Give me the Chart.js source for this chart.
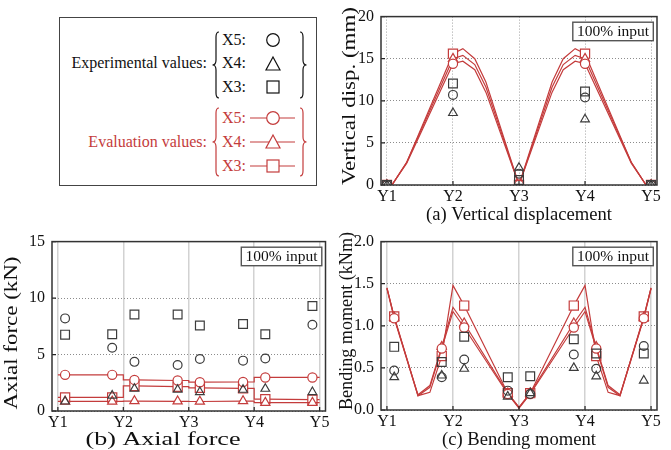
<!DOCTYPE html>
<html>
<head>
<meta charset="utf-8">
<script src="https://cdn.jsdelivr.net/npm/chart.js@4.4.0/dist/chart.umd.min.js"></script>
<style>
    body { margin: 0; width: 671px; height: 450px; background: #fff; position: relative; overflow: hidden; font-family: "Liberation Serif", serif; }
    .pane { position: absolute; }
    #legend-box { position: absolute; left: 59px; top: 17px; width: 256px; height: 167px; border: 1.5px solid #444; }
    .txt { position: absolute; height: 20px; line-height: 20px; font-size: 16px; white-space: nowrap; }
    .black { color: #111; }
    .red { color: #c43c3c; }
</style>
</head>
<body>

<div id="legend-box"></div>
<div class="txt black" style="left:40px;width:167px;top:53px;text-align:right">Experimental values:</div>
<div class="txt red" style="left:40px;width:167px;top:132px;text-align:right">Evaluation values:</div>
<div class="txt black" style="left:222px;top:30px">X5:</div>
<div class="txt black" style="left:222px;top:53px">X4:</div>
<div class="txt black" style="left:222px;top:77px">X3:</div>
<div class="txt red" style="left:222px;top:108px">X5:</div>
<div class="txt red" style="left:222px;top:132px">X4:</div>
<div class="txt red" style="left:222px;top:156px">X3:</div>
<svg style="position:absolute;left:0;top:0" width="340" height="200">
    <g fill="none" stroke="#111" stroke-width="1.2">
        <path d="M219 32 Q216 32 216 37 L216 60 Q216 65 212.5 65 Q216 65 216 70 L216 93 Q216 98 219 98"/>
        <path d="M300 32 Q303 32 303 37 L303 60 Q303 65 306.5 65 Q303 65 303 70 L303 93 Q303 98 300 98"/>
        <circle cx="273" cy="40" r="6.3"/>
        <path d="M273 57 L280 70 L266 70 Z"/>
        <rect x="267" y="81" width="12" height="12"/>
    </g>
    <g fill="none" stroke="#c43c3c" stroke-width="1.2">
        <path d="M219 108 Q216 108 216 113 L216 137 Q216 142 212.5 142 Q216 142 216 147 L216 171 Q216 176 219 176"/>
        <path d="M300 108 Q303 108 303 113 L303 137 Q303 142 306.5 142 Q303 142 303 147 L303 171 Q303 176 300 176"/>
        <path d="M250 118 H295 M250 142 H295 M250 166 H295"/>
        <circle cx="273" cy="118" r="6.3" fill="#fff"/>
        <path d="M273 135 L280 148 L266 148 Z" fill="#fff"/>
        <rect x="267" y="160" width="12" height="12" fill="#fff"/>
    </g>
</svg>

<div class="pane" style="left:335px;top:0;width:336px;height:225px"><canvas id="chart-a"></canvas></div>
<div class="pane" style="left:0;top:225px;width:335px;height:225px"><canvas id="chart-b"></canvas></div>
<div class="pane" style="left:335px;top:225px;width:336px;height:225px"><canvas id="chart-c"></canvas></div>

<script>
// --- member positions (Y1..Y5) ---
const memberTicks = [0, 1, 2, 3, 4];
const memberLabels = ['Y1', 'Y2', 'Y3', 'Y4', 'Y5'];

// gauge positions for axial force / bending moment
const gaugeX = [0.11, 0.83, 1.17, 1.83, 2.17, 2.83, 3.17, 3.89];

// (a) vertical displacement, mm
const dispTicks = [0, 5, 10, 15, 20];
const dispTickLabels = ['0', '5', '10', '15', '20'];
const dispX = [0, 0.08, 0.3, 1, 1.15, 1.33, 1.5, 2, 2.5, 2.67, 2.85, 3, 3.7, 3.92, 4];
const dispEvalX5 = [0, 0.05, 2.6, 14.4, 14.7, 13.7, 11.0, 0, 11.0, 13.7, 14.7, 14.4, 2.6, 0.05, 0];
const dispEvalX4 = [0, 0.05, 2.7, 15.0, 15.4, 14.3, 11.6, 0, 11.6, 14.3, 15.4, 15.0, 2.7, 0.05, 0];
const dispEvalX3 = [0, 0.05, 2.7, 15.6, 16.2, 15.0, 12.2, 0, 12.2, 15.0, 16.2, 15.6, 2.7, 0.05, 0];
const dispExpX5 = [0, 10.7, 1.35, 10.4, 0];
const dispExpX4 = [0, 8.55, 2.05, 7.8, 0];
const dispExpX3 = [0, 12.05, 0.6, 11.1, 0];

// (b) axial force, kN (values at gaugeX)
const axialTicks = [0, 5, 10, 15];
const axialTickLabels = ['0', '5', '10', '15'];
const axialEvalX5 = [3.2, 3.2, 2.75, 2.7, 2.55, 2.57, 2.97, 2.97];
const axialEvalX4 = [0.85, 0.85, 0.88, 0.86, 0.84, 0.88, 0.74, 0.74];
const axialEvalX3 = [1.2, 1.2, 2.22, 2.15, 2.05, 2.0, 1.05, 1.0];
const axialExpX5 = [8.2, 5.6, 4.35, 4.07, 4.6, 4.46, 4.65, 7.63];
const axialExpX4 = [0.84, 1.37, 1.97, 1.88, 1.68, 1.88, 1.97, 1.68];
const axialExpX3 = [6.76, 6.8, 8.55, 8.55, 7.57, 7.7, 6.8, 9.3];

// (c) bending moment, kNm
const momentTicks = [0, 0.5, 1, 1.5, 2];
const momentTickLabels = ['0.0', '0.5', '1.0', '1.5', '2.0'];
const momentX = [0, 0.11, 0.47, 0.65, 0.83, 1, 1.17, 1.83, 2, 2.17, 2.83, 3, 3.17, 3.35, 3.53, 3.89, 4];
const momentEvalX5 = [1.44, 1.09, 0.17, 0.27, 0.73, 1.17, 0.98, 0.19, 0.02, 0.19, 0.98, 1.17, 0.73, 0.27, 0.17, 1.09, 1.44];
const momentEvalX4 = [1.45, 1.10, 0.18, 0.29, 0.75, 1.22, 1.03, 0.20, 0.03, 0.20, 1.03, 1.22, 0.75, 0.29, 0.18, 1.10, 1.45];
const momentEvalX3 = [1.45, 1.11, 0.17, 0.21, 0.64, 1.48, 1.24, 0.20, 0.03, 0.20, 1.24, 1.48, 0.64, 0.21, 0.17, 1.11, 1.45];
const momentExpX5 = [0.47, 0.39, 0.60, 0.23, 0.19, 0.66, 0.49, 0.76];
const momentExpX4 = [0.39, 0.41, 0.49, 0.16, 0.20, 0.50, 0.40, 0.35];
const momentExpX3 = [0.75, 0.57, 0.87, 0.39, 0.40, 0.84, 0.67, 0.67];

const RED = '#c43c3c';
const GREY = '#3c3c3c';
const FONT = 'Liberation Serif';
const sizes = { circle: [4.4, 4.6], triangle: [5, 5.3], rect: [6.2, 6.5] };

function toPoints(xs, ys) {
    return xs.map((x, i) => ({ x: x, y: ys[i] }));
}

// step line over each member using the two gauge readings of that member
function stepPoints(vals) {
    const pts = [];
    for (let k = 0; k < 4; k++) {
        pts.push({ x: k, y: vals[2 * k] });
        pts.push({ x: gaugeX[2 * k], y: vals[2 * k] });
        pts.push({ x: gaugeX[2 * k + 1], y: vals[2 * k + 1] });
        pts.push({ x: k + 1, y: vals[2 * k + 1] });
    }
    return pts;
}

function expSet(points, style) {
    return {
        data: points,
        showLine: false,
        pointStyle: style,
        pointRadius: sizes[style][0],
        borderColor: GREY,
        backgroundColor: 'rgba(0,0,0,0)',
        borderWidth: 1.2
    };
}

function evalSet(points, style, markAt) {
    return {
        data: points,
        showLine: true,
        tension: 0,
        borderColor: RED,
        borderWidth: 1.2,
        pointStyle: style,
        pointRadius: ctx => (ctx.raw && markAt.includes(ctx.raw.x)) ? sizes[style][1] : 0,
        pointBorderColor: RED,
        pointBackgroundColor: '#fff',
        pointBorderWidth: 1.2
    };
}

function stretchText(ctx, t, vertical) {
    ctx.save();
    ctx.font = t.size + 'px "' + FONT + '"';
    ctx.translate(t.cx, t.cy);
    if (vertical) ctx.rotate(-Math.PI / 2);
    const m = ctx.measureText(t.text).width;
    ctx.scale(t.w / m, 1);
    ctx.textAlign = 'center';
    ctx.textBaseline = 'middle';
    ctx.fillText(t.text, 0, 0);
    ctx.restore();
}

const decor = {
    id: 'decor',
    afterDatasetsDraw(chart, args, opts) {
        const { ctx, chartArea: a, scales: { x, y } } = chart;
        ctx.save();
        // inward tick marks
        ctx.strokeStyle = '#222';
        ctx.lineWidth = 1.2;
        ctx.beginPath();
        x.ticks.forEach(t => {
            const px = x.getPixelForValue(t.value);
            ctx.moveTo(px, a.bottom);
            ctx.lineTo(px, a.bottom - 4);
        });
        y.ticks.forEach(t => {
            const py = y.getPixelForValue(t.value);
            ctx.moveTo(a.left, py);
            ctx.lineTo(a.left + 4, py);
        });
        ctx.stroke();
        // frame
        ctx.lineWidth = 1.5;
        ctx.strokeStyle = '#333';
        ctx.strokeRect(a.left, a.top, a.right - a.left, a.bottom - a.top);
        // "100% input" badge
        const bw = 80.5, bh = 18.5;
        const bx = a.right - 3.7 - bw, by = a.top + 5.6;
        ctx.fillStyle = '#fff';
        ctx.fillRect(bx, by, bw, bh);
        ctx.strokeStyle = '#555';
        ctx.lineWidth = 1.4;
        ctx.strokeRect(bx, by, bw, bh);
        ctx.fillStyle = '#111';
        ctx.font = '15.5px "' + FONT + '"';
        ctx.textAlign = 'center';
        ctx.textBaseline = 'middle';
        ctx.fillText(opts.badge, bx + bw / 2, by + bh / 2 + 0.5);
        ctx.restore();
    },
    afterDraw(chart, args, opts) {
        const ctx = chart.ctx;
        ctx.save();
        ctx.fillStyle = '#111';
        stretchText(ctx, opts.xTitle, false);
        stretchText(ctx, opts.yTitle, true);
        ctx.restore();
    }
};

function makeOptions(cfg) {
    const tickFont = { family: FONT, size: 16 };
    return {
        animation: false,
        responsive: true,
        maintainAspectRatio: false,
        layout: { padding: cfg.pad },
        plugins: {
            legend: { display: false },
            tooltip: { enabled: false },
            decor: { badge: '100% input', xTitle: cfg.xTitle, yTitle: cfg.yTitle }
        },
        scales: {
            x: {
                type: 'linear',
                min: -0.09,
                max: 4.09,
                afterBuildTicks: s => { s.ticks = memberTicks.map(v => ({ value: v })); },
                afterFit: s => { s.height = cfg.xHeight; },
                ticks: {
                    callback: v => memberLabels[memberTicks.indexOf(v)],
                    padding: 2,
                    autoSkip: false,
                    maxRotation: 0,
                    color: '#111',
                    font: tickFont
                },
                grid: { color: cfg.vGridColor, lineWidth: cfg.vGridWidth, drawTicks: false },
                border: { display: false, dash: cfg.vDash }
            },
            y: {
                min: 0,
                max: cfg.yTicks[cfg.yTicks.length - 1],
                afterBuildTicks: s => { s.ticks = cfg.yTicks.map(v => ({ value: v })); },
                afterFit: s => { s.width = cfg.yWidth; },
                ticks: {
                    callback: v => cfg.yLabels[cfg.yTicks.indexOf(v)],
                    padding: 7,
                    color: '#111',
                    font: tickFont
                },
                grid: { color: '#8c8c8c', lineWidth: 1, drawTicks: false },
                border: { display: false, dash: [1, 2] }
            }
        }
    };
}

new Chart(document.getElementById('chart-a'), {
    type: 'scatter',
    data: {
        datasets: [
            expSet(toPoints(memberTicks, dispExpX5), 'circle'),
            expSet(toPoints(memberTicks, dispExpX4), 'triangle'),
            expSet(toPoints(memberTicks, dispExpX3), 'rect'),
            evalSet(toPoints(dispX, dispEvalX5), 'circle', memberTicks),
            evalSet(toPoints(dispX, dispEvalX4), 'triangle', memberTicks),
            evalSet(toPoints(dispX, dispEvalX3), 'rect', memberTicks)
        ]
    },
    options: makeOptions({
        pad: { left: 0, right: 14, top: 8, bottom: 0 },
        xHeight: 40, yWidth: 46,
        yTicks: dispTicks, yLabels: dispTickLabels,
        vGridColor: '#a0a0a0', vGridWidth: 1, vDash: [1, 2],
        xTitle: { text: '(a) Vertical displacement', cx: 184, cy: 215, w: 186, size: 18 },
        yTitle: { text: 'Vertical disp. (mm)', cx: 15, cy: 96, w: 178, size: 19.5 }
    }),
    plugins: [decor]
});

new Chart(document.getElementById('chart-b'), {
    type: 'scatter',
    data: {
        datasets: [
            expSet(toPoints(gaugeX, axialExpX5), 'circle'),
            expSet(toPoints(gaugeX, axialExpX4), 'triangle'),
            expSet(toPoints(gaugeX, axialExpX3), 'rect'),
            evalSet(stepPoints(axialEvalX5), 'circle', gaugeX),
            evalSet(stepPoints(axialEvalX4), 'triangle', gaugeX),
            evalSet(stepPoints(axialEvalX3), 'rect', gaugeX)
        ]
    },
    options: makeOptions({
        pad: { left: 0, right: 9.5, top: 7, bottom: 0 },
        xHeight: 39, yWidth: 52,
        yTicks: axialTicks, yLabels: axialTickLabels,
        vGridColor: '#d2d2d2', vGridWidth: 1.5, vDash: [],
        xTitle: { text: '(b) Axial force', cx: 163, cy: 215, w: 155, size: 19.5 },
        yTitle: { text: 'Axial force (kN)', cx: 12, cy: 108, w: 153, size: 19.5 }
    }),
    plugins: [decor]
});

new Chart(document.getElementById('chart-c'), {
    type: 'scatter',
    data: {
        datasets: [
            expSet(toPoints(gaugeX, momentExpX5), 'circle'),
            expSet(toPoints(gaugeX, momentExpX4), 'triangle'),
            expSet(toPoints(gaugeX, momentExpX3), 'rect'),
            evalSet(toPoints(momentX, momentEvalX5), 'circle', gaugeX),
            evalSet(toPoints(momentX, momentEvalX4), 'triangle', gaugeX),
            evalSet(toPoints(momentX, momentEvalX3), 'rect', gaugeX)
        ]
    },
    options: makeOptions({
        pad: { left: 0, right: 14, top: 7, bottom: 0 },
        xHeight: 40, yWidth: 46,
        yTicks: momentTicks, yLabels: momentTickLabels,
        vGridColor: '#d2d2d2', vGridWidth: 1.5, vDash: [],
        xTitle: { text: '(c) Bending moment', cx: 184, cy: 215, w: 154, size: 18 },
        yTitle: { text: 'Bending moment (kNm)', cx: 12, cy: 96, w: 178, size: 18 }
    }),
    plugins: [decor]
});
</script>
</body>
</html>
